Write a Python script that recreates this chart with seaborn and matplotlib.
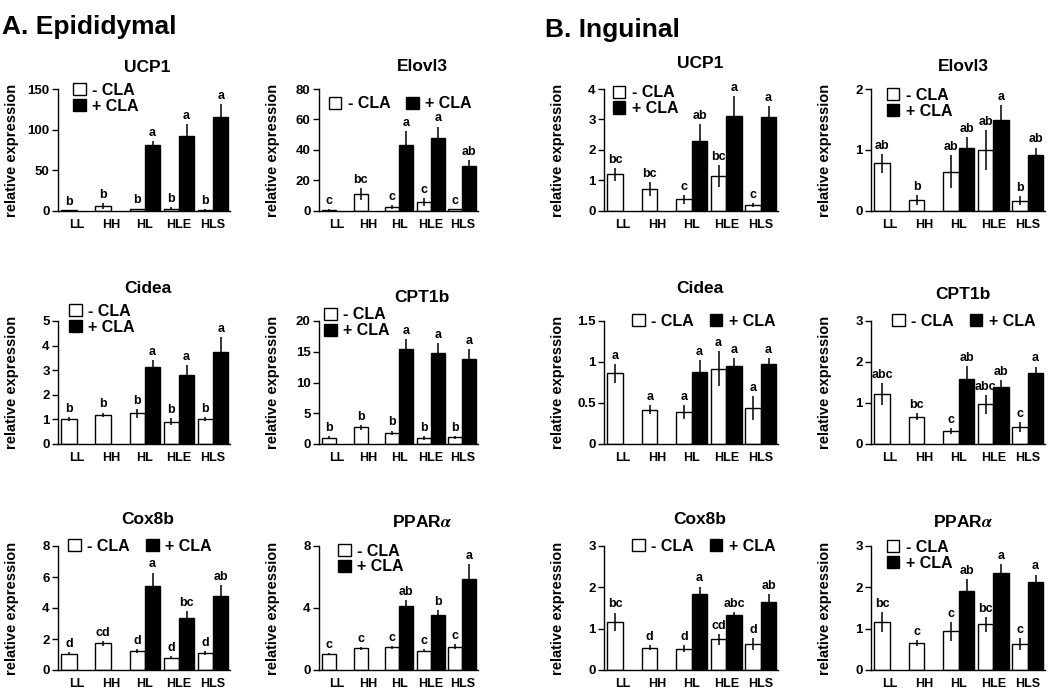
import matplotlib
matplotlib.use("Agg")
import matplotlib.pyplot as plt
import matplotlib.ticker as mticker
from matplotlib.container import BarContainer
import seaborn as sns
import pandas as pd
import numpy as np

NA = np.nan
diets = ["LL", "HH", "HL", "HLE", "HLS"]
treatments = ["- CLA", "+ CLA"]

# ---------------- A. Epididymal ----------------
epi_ucp1_minus = [1.0, 6.6, 2.0, 3.0, 1.5]
epi_ucp1_minus_err = [0.5, 3.7, 1.0, 1.5, 0.6]
epi_ucp1_plus = [NA, NA, 80.7, 91.8, 115.0]
epi_ucp1_plus_err = [NA, NA, 5.7, 15.6, 16.5]
epi_ucp1_minus_sig = ["b", "b", "b", "b", "b"]
epi_ucp1_plus_sig = ["", "", "a", "a", "a"]

epi_elovl3_minus = [0.8, 10.9, 2.6, 5.8, 1.0]
epi_elovl3_minus_err = [0.3, 4.0, 1.5, 2.5, 0.3]
epi_elovl3_plus = [NA, NA, 43.6, 48.1, 29.7]
epi_elovl3_plus_err = [NA, NA, 8.8, 7.3, 3.5]
epi_elovl3_minus_sig = ["c", "bc", "c", "c", "c"]
epi_elovl3_plus_sig = ["", "", "a", "a", "ab"]

epi_cidea_minus = [1.0, 1.18, 1.25, 0.91, 1.0]
epi_cidea_minus_err = [0.08, 0.1, 0.18, 0.13, 0.08]
epi_cidea_plus = [NA, NA, 3.15, 2.82, 3.72]
epi_cidea_plus_err = [NA, NA, 0.25, 0.4, 0.64]
epi_cidea_minus_sig = ["b", "b", "b", "b", "b"]
epi_cidea_plus_sig = ["", "", "a", "a", "a"]

epi_cpt1b_minus = [1.03, 2.7, 1.84, 0.98, 1.08]
epi_cpt1b_minus_err = [0.2, 0.35, 0.35, 0.25, 0.2]
epi_cpt1b_plus = [NA, NA, 15.5, 14.8, 13.8]
epi_cpt1b_plus_err = [NA, NA, 1.5, 1.6, 1.6]
epi_cpt1b_minus_sig = ["b", "b", "b", "b", "b"]
epi_cpt1b_plus_sig = ["", "", "a", "a", "a"]

epi_cox8b_minus = [1.05, 1.71, 1.22, 0.79, 1.11]
epi_cox8b_minus_err = [0.1, 0.15, 0.15, 0.1, 0.12]
epi_cox8b_plus = [NA, NA, 5.43, 3.38, 4.75]
epi_cox8b_plus_err = [NA, NA, 0.86, 0.45, 0.75]
epi_cox8b_minus_sig = ["d", "cd", "d", "d", "d"]
epi_cox8b_plus_sig = ["", "", "a", "bc", "ab"]

epi_ppara_minus = [1.04, 1.4, 1.47, 1.25, 1.51]
epi_ppara_minus_err = [0.08, 0.1, 0.1, 0.12, 0.15]
epi_ppara_plus = [NA, NA, 4.13, 3.52, 5.9]
epi_ppara_plus_err = [NA, NA, 0.37, 0.33, 0.93]
epi_ppara_minus_sig = ["c", "c", "c", "c", "c"]
epi_ppara_plus_sig = ["", "", "ab", "b", "a"]

# ---------------- B. Inguinal ----------------
ing_ucp1_minus = [1.2, 0.73, 0.38, 1.15, 0.2]
ing_ucp1_minus_err = [0.22, 0.23, 0.15, 0.37, 0.07]
ing_ucp1_plus = [NA, NA, 2.3, 3.1, 3.08]
ing_ucp1_plus_err = [NA, NA, 0.56, 0.68, 0.35]
ing_ucp1_minus_sig = ["bc", "bc", "c", "bc", "c"]
ing_ucp1_plus_sig = ["", "", "ab", "a", "a"]

ing_elovl3_minus = [0.78, 0.18, 0.64, 1.0, 0.17]
ing_elovl3_minus_err = [0.15, 0.08, 0.27, 0.33, 0.07]
ing_elovl3_plus = [NA, NA, 1.03, 1.49, 0.91]
ing_elovl3_plus_err = [NA, NA, 0.18, 0.25, 0.13]
ing_elovl3_minus_sig = ["ab", "b", "ab", "ab", "b"]
ing_elovl3_plus_sig = ["", "", "ab", "a", "ab"]

ing_cidea_minus = [0.86, 0.42, 0.39, 0.92, 0.44]
ing_cidea_minus_err = [0.11, 0.05, 0.08, 0.21, 0.15]
ing_cidea_plus = [NA, NA, 0.88, 0.95, 0.97]
ing_cidea_plus_err = [NA, NA, 0.14, 0.1, 0.08]
ing_cidea_minus_sig = ["a", "a", "a", "a", "a"]
ing_cidea_plus_sig = ["", "", "a", "a", "a"]

ing_cpt1b_minus = [1.21, 0.67, 0.32, 0.97, 0.42]
ing_cpt1b_minus_err = [0.27, 0.08, 0.08, 0.23, 0.12]
ing_cpt1b_plus = [NA, NA, 1.59, 1.4, 1.72]
ing_cpt1b_plus_err = [NA, NA, 0.32, 0.16, 0.17]
ing_cpt1b_minus_sig = ["abc", "bc", "c", "abc", "c"]
ing_cpt1b_plus_sig = ["", "", "ab", "ab", "a"]

ing_cox8b_minus = [1.17, 0.54, 0.52, 0.74, 0.63]
ing_cox8b_minus_err = [0.22, 0.06, 0.08, 0.13, 0.14]
ing_cox8b_plus = [NA, NA, 1.83, 1.33, 1.65]
ing_cox8b_plus_err = [NA, NA, 0.19, 0.07, 0.18]
ing_cox8b_minus_sig = ["bc", "d", "d", "cd", "d"]
ing_cox8b_plus_sig = ["", "", "a", "abc", "ab"]

ing_ppara_minus = [1.17, 0.65, 0.94, 1.11, 0.63]
ing_ppara_minus_err = [0.24, 0.07, 0.23, 0.18, 0.14]
ing_ppara_plus = [NA, NA, 1.9, 2.34, 2.14]
ing_ppara_plus_err = [NA, NA, 0.29, 0.22, 0.17]
ing_ppara_minus_sig = ["bc", "c", "c", "bc", "c"]
ing_ppara_plus_sig = ["", "", "ab", "a", "a"]

# panel order: row by row, columns Epi-left, Epi-right, Ing-left, Ing-right
titles = ["UCP1", "Elovl3", "UCP1", "Elovl3",
          "Cidea", "CPT1b", "Cidea", "CPT1b",
          "Cox8b", "PPAR$\\alpha$", "Cox8b", "PPAR$\\alpha$"]
y_max = [150, 80, 4, 2,
         5, 20, 1.5, 3,
         8, 8, 3, 3]
y_step = [50, 20, 1, 1,
          1, 5, 0.5, 1,
          2, 4, 1, 1]

panels = [
    (epi_ucp1_minus, epi_ucp1_minus_err, epi_ucp1_plus, epi_ucp1_plus_err, epi_ucp1_minus_sig, epi_ucp1_plus_sig),
    (epi_elovl3_minus, epi_elovl3_minus_err, epi_elovl3_plus, epi_elovl3_plus_err, epi_elovl3_minus_sig, epi_elovl3_plus_sig),
    (ing_ucp1_minus, ing_ucp1_minus_err, ing_ucp1_plus, ing_ucp1_plus_err, ing_ucp1_minus_sig, ing_ucp1_plus_sig),
    (ing_elovl3_minus, ing_elovl3_minus_err, ing_elovl3_plus, ing_elovl3_plus_err, ing_elovl3_minus_sig, ing_elovl3_plus_sig),
    (epi_cidea_minus, epi_cidea_minus_err, epi_cidea_plus, epi_cidea_plus_err, epi_cidea_minus_sig, epi_cidea_plus_sig),
    (epi_cpt1b_minus, epi_cpt1b_minus_err, epi_cpt1b_plus, epi_cpt1b_plus_err, epi_cpt1b_minus_sig, epi_cpt1b_plus_sig),
    (ing_cidea_minus, ing_cidea_minus_err, ing_cidea_plus, ing_cidea_plus_err, ing_cidea_minus_sig, ing_cidea_plus_sig),
    (ing_cpt1b_minus, ing_cpt1b_minus_err, ing_cpt1b_plus, ing_cpt1b_plus_err, ing_cpt1b_minus_sig, ing_cpt1b_plus_sig),
    (epi_cox8b_minus, epi_cox8b_minus_err, epi_cox8b_plus, epi_cox8b_plus_err, epi_cox8b_minus_sig, epi_cox8b_plus_sig),
    (epi_ppara_minus, epi_ppara_minus_err, epi_ppara_plus, epi_ppara_plus_err, epi_ppara_minus_sig, epi_ppara_plus_sig),
    (ing_cox8b_minus, ing_cox8b_minus_err, ing_cox8b_plus, ing_cox8b_plus_err, ing_cox8b_minus_sig, ing_cox8b_plus_sig),
    (ing_ppara_minus, ing_ppara_minus_err, ing_ppara_plus, ing_ppara_plus_err, ing_ppara_minus_sig, ing_ppara_plus_sig),
]

# ---------------- layout (pixels) ----------------
W, H = 1050, 692
col_left = [58, 319, 604, 871]
col_right = [230, 478, 778, 1045]
row_tb = [(89, 211), (321, 444), (546, 670)]
title_pad = [12.6, 13, 14.8, 13,
             19.8, 14, 19.8, 15.5,
             16, 14, 16, 14]
title_x = [0.52, 0.65, 0.55, 0.53]
leg_anchor = [(0.087, 1.05), (0.06, 0.94), (0.05, 1.03), (0.09, 1.01),
              (0.064, 1.14), (0.03, 1.11), (0.16, 1.06), (0.12, 1.06),
              (0.06, 1.06), (0.12, 1.02), (0.16, 1.06), (0.09, 1.05)]
leg_ncol = [1, 2, 1, 1,
            1, 1, 2, 2,
            2, 1, 2, 1]

sns.set_theme(style="ticks")
plt.rcParams["font.family"] = ["Liberation Sans", "DejaVu Sans"]
plt.rcParams["font.weight"] = "bold"
plt.rcParams["mathtext.fontset"] = "stix"
for k in ["axes.edgecolor", "xtick.color", "ytick.color", "text.color", "axes.labelcolor"]:
    plt.rcParams[k] = "black"

fig = plt.figure(figsize=(W / 100, H / 100), dpi=100)
fig.patch.set_facecolor("white")

fmt = mticker.FuncFormatter(lambda v, p: f"{v:g}")

for idx, (minus, minus_err, plus, plus_err, minus_sig, plus_sig) in enumerate(panels):
    r, c = divmod(idx, 4)
    top, bot = row_tb[r]
    left, right = col_left[c], col_right[c]
    ax = fig.add_axes([left / W, 1 - bot / H, (right - left) / W, (bot - top) / H])

    df = pd.DataFrame({
        "diet": diets * 2,
        "CLA": [treatments[0]] * len(diets) + [treatments[1]] * len(diets),
        "value": list(minus) + list(plus),
    }).dropna()

    sns.barplot(data=df, x="diet", y="value", hue="CLA", order=diets,
                hue_order=treatments, palette=["white", "black"],
                edgecolor="black", linewidth=1.0, width=0.9,
                errorbar=None, ax=ax, legend=True, saturation=1)

    errs = {0: minus_err, 1: plus_err}
    sigs = {0: minus_sig, 1: plus_sig}
    bar_containers = [cn for cn in ax.containers if isinstance(cn, BarContainer)]
    for cont in bar_containers:
        for bar in cont:
            if bar is None:
                continue
            g = 0 if bar.get_facecolor()[0] > 0.5 else 1
            xc = bar.get_x() + bar.get_width() / 2
            i = int(round(xc))
            h = bar.get_height()
            e = errs[g][i]
            ax.errorbar(xc, h, yerr=e, fmt="none", ecolor="black",
                        elinewidth=1.1, capsize=0, zorder=3)
            ax.annotate(sigs[g][i], (xc, h + e), xytext=(0, 1.5),
                        textcoords="offset points", ha="center", va="bottom",
                        fontsize=9, fontweight="bold", zorder=4)

    ax.set_ylim(0, y_max[idx])
    ax.set_yticks(np.arange(0, y_max[idx] + y_step[idx] / 2, y_step[idx]))
    ax.yaxis.set_major_formatter(fmt)
    ax.set_xlim(-0.55, 4.5)
    sns.despine(ax=ax)
    for s in ["left", "bottom"]:
        ax.spines[s].set_linewidth(1.0)
    ax.tick_params(axis="x", length=0, pad=6, labelsize=9)
    ax.tick_params(axis="y", length=4, width=1.0, pad=2, labelsize=9.5)
    for t in ax.get_xticklabels() + ax.get_yticklabels():
        t.set_fontweight("bold")
    ax.set_xlabel("")
    ax.set_ylabel("relative expression", fontsize=10.5, fontweight="bold")
    ax.yaxis.set_label_coords(-39 / (right - left), 0.5)
    ax.set_title(titles[idx], fontsize=12.5, fontweight="bold",
                 pad=title_pad[idx], x=title_x[c])

    sns.move_legend(ax, "upper left", bbox_to_anchor=leg_anchor[idx],
                    ncol=leg_ncol[idx], title=None, frameon=False,
                    borderpad=0, borderaxespad=0, handlelength=0.8,
                    handleheight=0.8, handletextpad=0.4, labelspacing=0.05,
                    columnspacing=1.0, prop={"weight": "bold", "size": 11.5})
    leg = ax.get_legend()
    for hnd in leg.legend_handles:
        hnd.set_edgecolor("black")
        hnd.set_linewidth(1.0)

fig.text(2 / W, 1 - 27 / H, "A. Epididymal", fontsize=19, fontweight="bold",
         ha="left", va="center")
fig.text(545 / W, 1 - 30 / H, "B. Inguinal", fontsize=19, fontweight="bold",
         ha="left", va="center")

fig.savefig("out.png", dpi=100, facecolor="white")
